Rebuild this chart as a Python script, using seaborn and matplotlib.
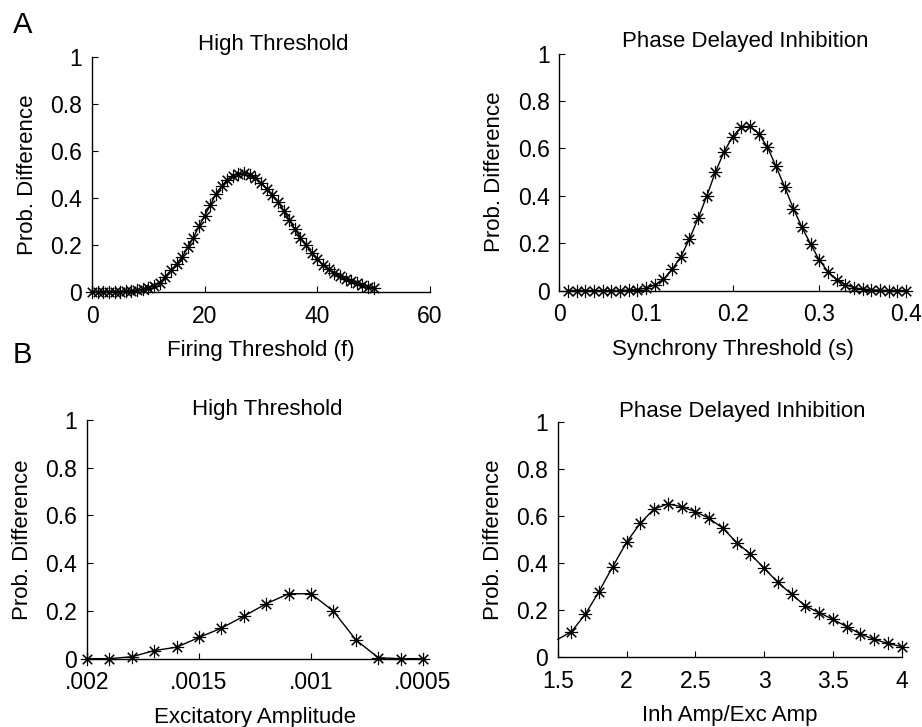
import numpy as np
import matplotlib
matplotlib.use('Agg')
import matplotlib.pyplot as plt
import seaborn as sns

# ---- data ----
# A, left: High Threshold vs firing threshold
firing_thr = list(range(0, 51))
firing_diff = [0.0, 0.0, 0.0, 0.001, 0.001, 0.002, 0.003, 0.005, 0.008, 0.012,
               0.018, 0.025, 0.04, 0.064, 0.093, 0.118, 0.15, 0.19, 0.232, 0.28,
               0.325, 0.37, 0.417, 0.45, 0.478, 0.495, 0.503, 0.505, 0.5, 0.485,
               0.463, 0.44, 0.413, 0.385, 0.347, 0.308, 0.268, 0.232, 0.2, 0.168,
               0.14, 0.117, 0.098, 0.082, 0.067, 0.055, 0.045, 0.037, 0.03, 0.022,
               0.016]

# A, right: Phase Delayed Inhibition vs synchrony threshold
sync_thr = [0.01, 0.02, 0.03, 0.04, 0.05, 0.06, 0.07, 0.08, 0.09, 0.10,
            0.11, 0.12, 0.13, 0.14, 0.15, 0.16, 0.17, 0.18, 0.19, 0.20,
            0.21, 0.22, 0.23, 0.24, 0.25, 0.26, 0.27, 0.28, 0.29, 0.30,
            0.31, 0.32, 0.33, 0.34, 0.35, 0.36, 0.37, 0.38, 0.39, 0.40]
sync_diff = [0.0, 0.0, 0.0, 0.0, 0.0, 0.0, 0.0, 0.002, 0.004, 0.01,
             0.023, 0.047, 0.089, 0.142, 0.217, 0.304, 0.398, 0.50, 0.585, 0.65,
             0.69, 0.693, 0.662, 0.606, 0.524, 0.437, 0.346, 0.266, 0.196, 0.128,
             0.08, 0.045, 0.025, 0.012, 0.006, 0.003, 0.001, 0.0, 0.0, 0.0]

# B, left: High Threshold vs excitatory amplitude (axis reversed)
exc_amp = [0.0020, 0.0019, 0.0018, 0.0017, 0.0016, 0.0015, 0.0014, 0.0013,
           0.0012, 0.0011, 0.0010, 0.0009, 0.0008, 0.0007, 0.0006, 0.0005]
exc_diff = [0.0, 0.0, 0.008, 0.034, 0.048, 0.089, 0.128, 0.178,
            0.23, 0.272, 0.272, 0.199, 0.079, 0.004, 0.0, 0.0]

# B, right: Phase Delayed Inhibition vs inh/exc amplitude ratio
# (first point at 1.5 is only on the curve, no marker)
inh_ratio = [1.5, 1.6, 1.7, 1.8, 1.9, 2.0, 2.1, 2.2, 2.3, 2.4, 2.5, 2.6, 2.7,
             2.8, 2.9, 3.0, 3.1, 3.2, 3.3, 3.4, 3.5, 3.6, 3.7, 3.8, 3.9, 4.0]
inh_diff = [0.076, 0.109, 0.182, 0.279, 0.385, 0.488, 0.569, 0.629, 0.651,
            0.639, 0.618, 0.59, 0.548, 0.487, 0.438, 0.378, 0.318, 0.267,
            0.218, 0.189, 0.161, 0.13, 0.099, 0.076, 0.059, 0.045]

y_ticks = [0, 0.2, 0.4, 0.6, 0.8, 1]
y_ticklabels = ['0', '0.2', '0.4', '0.6', '0.8', '1']

sns.set_theme(style='ticks')
plt.rcParams['font.family'] = ['Liberation Sans', 'DejaVu Sans']
plt.rcParams['text.color'] = 'black'
plt.rcParams['axes.labelcolor'] = 'black'
plt.rcParams['xtick.direction'] = 'in'
plt.rcParams['ytick.direction'] = 'in'

fig = plt.figure(figsize=(9.22, 7.27), dpi=100)

ax_al = fig.add_axes([0.0998, 0.5983, 0.3666, 0.3232])
ax_ar = fig.add_axes([0.6068, 0.6004, 0.3758, 0.3259])
ax_bl = fig.add_axes([0.0944, 0.0940, 0.3644, 0.3283])
ax_br = fig.add_axes([0.6049, 0.0959, 0.3731, 0.3241])

star = (8, 2, 0)
mk = dict(marker=star, markersize=9.5, markeredgecolor='black',
          markeredgewidth=0.8, color='black', linewidth=1.0)


def style_axes(ax, title, xlabel, title_pad):
    ax.set_ylim(0, 1)
    ax.set_yticks(y_ticks)
    ax.set_yticklabels(y_ticklabels)
    ax.set_title(title, fontsize=16, pad=title_pad, x=0.535)
    ax.set_xlabel(xlabel, fontsize=16, labelpad=9)
    ax.set_ylabel('Prob. Difference', fontsize=16, labelpad=9)
    ax.tick_params(labelsize=16.5, length=4, width=0.8, pad=7, colors='black')
    ax.tick_params(axis='x', pad=9)
    for s in ['left', 'bottom']:
        ax.spines[s].set_linewidth(1.0)
        ax.spines[s].set_color('black')
    sns.despine(ax=ax)


# A left
sns.lineplot(x=firing_thr, y=firing_diff, ax=ax_al, clip_on=False, **mk)
ax_al.set_xlim(0, 60)
ax_al.set_xticks([0, 20, 40, 60])
style_axes(ax_al, 'High Threshold', 'Firing Threshold (f)', 5)

# A right
sns.lineplot(x=sync_thr, y=sync_diff, ax=ax_ar, clip_on=False, **mk)
ax_ar.set_xlim(0, 0.4)
ax_ar.set_xticks([0, 0.1, 0.2, 0.3, 0.4])
ax_ar.set_xticklabels(['0', '0.1', '0.2', '0.3', '0.4'])
style_axes(ax_ar, 'Phase Delayed Inhibition', 'Synchrony Threshold (s)', 5)

# B left
sns.lineplot(x=exc_amp, y=exc_diff, ax=ax_bl, clip_on=False, **mk)
ax_bl.set_xlim(0.002, 0.0005)
ax_bl.set_xticks([0.002, 0.0015, 0.001, 0.0005])
ax_bl.set_xticklabels(['.002', '.0015', '.001', '.0005'])
style_axes(ax_bl, 'High Threshold', 'Excitatory Amplitude', -4.5)

# B right
sns.lineplot(x=inh_ratio, y=inh_diff, ax=ax_br, color='black', linewidth=1.0,
             clip_on=False)
sns.lineplot(x=inh_ratio[1:], y=inh_diff[1:], ax=ax_br, clip_on=False,
             marker=star, markersize=9.5, markeredgecolor='black',
             markeredgewidth=0.8, color='black', linestyle='none')
ax_br.set_xlim(1.5, 4)
ax_br.set_xticks([1.5, 2, 2.5, 3, 3.5, 4])
ax_br.set_xticklabels(['1.5', '2', '2.5', '3', '3.5', '4'])
style_axes(ax_br, 'Phase Delayed Inhibition', 'Inh Amp/Exc Amp', -4.5)

fig.text(0.014, 0.9546, 'A', fontsize=21, va='baseline', ha='left')
fig.text(0.014, 0.5007, 'B', fontsize=21, va='baseline', ha='left')

fig.savefig('out.png', dpi=100, facecolor='white')
